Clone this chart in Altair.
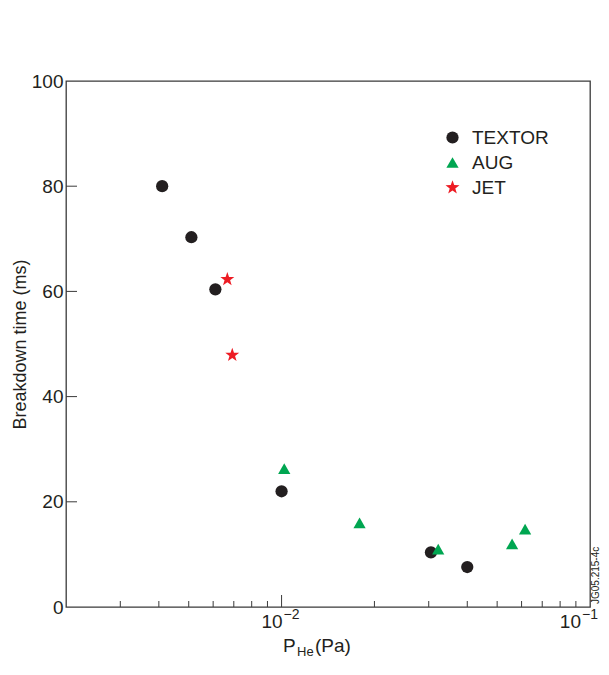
import altair as alt
import pandas as pd

# ---- data ----
groups = ["TEXTOR", "AUG", "JET"]
group_colors = ["#231f20", "#00a651", "#ed1c24"]
STAR = ("M0,-1.2L0.282,-0.389L1.141,-0.371L0.456,0.149L0.706,0.971L0,0.48"
        "L-0.706,0.971L-0.456,0.149L-1.141,-0.371L-0.282,-0.389Z")
group_shapes = ["circle", "triangle-up", STAR]

textor_p = [0.0041, 0.0051, 0.0061, 0.0100, 0.0305, 0.0400]
textor_t = [80.0, 70.3, 60.4, 22.0, 10.4, 7.6]

aug_p = [0.0102, 0.0179, 0.0322, 0.0559, 0.0616]
aug_t = [26.3, 16.0, 11.0, 12.0, 14.8]

jet_p = [0.00667, 0.00692]
jet_t = [62.3, 47.9]

y_tick_values = [0, 20, 40, 60, 80, 100]
y_inner_ticks = [20, 40, 60, 80]
x_minor_ticks = [0.003, 0.004, 0.005, 0.006, 0.007, 0.008, 0.009,
                 0.02, 0.03, 0.04, 0.05, 0.06, 0.07, 0.08, 0.09]
x_major_ticks = [0.01]
x_label_mid = [0.01]
x_label_end = [0.1]
x_label_base = ["10"]
x_label_exp_mid = ["\u22122"]
x_label_exp_end = ["\u22121"]

# ---- table ----
rows = []
for name, ps, ts in [("TEXTOR", textor_p, textor_t), ("AUG", aug_p, aug_t), ("JET", jet_p, jet_t)]:
    for p, t in zip(ps, ts):
        rows.append({"group": name, "p": p, "t": t})
df = pd.DataFrame(rows)

W, H = 524, 526
FONT = "Liberation Sans"
INK = "#231f20"
LINE = "#3a3a3a"

x_scale = alt.Scale(type="log", domain=[0.002, 0.1], nice=False)
y_scale = alt.Scale(domain=[0, 100], nice=False)

y_axis = alt.Axis(values=y_tick_values, tickSize=0, domain=False, grid=False,
                  labelFontSize=19, labelPadding=3, labelColor=INK, labelFont=FONT,
                  title="Breakdown time (ms)", titleFontSize=18, titleFont=FONT,
                  titleFontWeight="normal", titleColor=INK, titlePadding=2)

legend = alt.Legend(title=None, orient="none", legendX=377, legendY=47,
                    labelFontSize=19, labelFont=FONT, labelColor=INK,
                    symbolSize=150, symbolStrokeWidth=0, rowPadding=5, labelOffset=10)

points = alt.Chart(df).mark_point(filled=True, size=150, opacity=1).encode(
    x=alt.X("p:Q", scale=x_scale, axis=None),
    y=alt.Y("t:Q", scale=y_scale, axis=y_axis),
    color=alt.Color("group:N", scale=alt.Scale(domain=groups, range=group_colors), legend=legend),
    shape=alt.Shape("group:N", scale=alt.Scale(domain=groups, range=group_shapes), legend=legend),
)

minor = alt.Chart(pd.DataFrame({"p": x_minor_ticks})).mark_rule(color=LINE, strokeWidth=1).encode(
    x=alt.X("p:Q", scale=x_scale, axis=None), y=alt.value(H), y2=alt.value(H - 6))
major = alt.Chart(pd.DataFrame({"p": x_major_ticks})).mark_rule(color=LINE, strokeWidth=1).encode(
    x=alt.X("p:Q", scale=x_scale, axis=None), y=alt.value(H), y2=alt.value(H - 12))

yticks = alt.Chart(pd.DataFrame({"t": y_inner_ticks})).mark_rule(color=LINE, strokeWidth=1).encode(
    y=alt.Y("t:Q", scale=y_scale, axis=y_axis), x=alt.value(0), x2=alt.value(11))


def xlabel(values, exps, dx_base, dx_exp):
    d = pd.DataFrame({"p": values, "base": x_label_base * len(values), "exp": exps})
    b = alt.Chart(d).mark_text(align="right", baseline="alphabetic", dx=dx_base,
                               fontSize=19, font=FONT, color=INK).encode(
        x=alt.X("p:Q", scale=x_scale, axis=None), y=alt.value(H + 21), text="base:N")
    e = alt.Chart(d).mark_text(align="left", baseline="alphabetic", dx=dx_exp,
                               fontSize=14, font=FONT, color=INK).encode(
        x=alt.X("p:Q", scale=x_scale, axis=None), y=alt.value(H + 12), text="exp:N")
    return [b, e]


labels = xlabel(x_label_mid, x_label_exp_mid, 1, 2) + xlabel(x_label_end, x_label_exp_end, -9, -8)

t_P = alt.Chart(pd.DataFrame({"s": ["P"]})).mark_text(align="left", baseline="alphabetic",
        fontSize=19, font=FONT, color=INK).encode(x=alt.value(217), y=alt.value(H + 45), text="s:N")
t_He = alt.Chart(pd.DataFrame({"s": ["He"]})).mark_text(align="left", baseline="alphabetic",
        fontSize=13, font=FONT, color=INK).encode(x=alt.value(231), y=alt.value(H + 49), text="s:N")
t_Pa = alt.Chart(pd.DataFrame({"s": ["(Pa)"]})).mark_text(align="left", baseline="alphabetic",
        fontSize=19, font=FONT, color=INK).encode(x=alt.value(249), y=alt.value(H + 45), text="s:N")

jg = alt.Chart(pd.DataFrame({"s": ["JG05.215-4c"]})).mark_text(align="left", baseline="middle",
        angle=270, fontSize=10, font=FONT, color=INK).encode(x=alt.value(W + 6), y=alt.value(H - 3), text="s:N")

chart = alt.layer(minor, major, yticks, points, *labels, t_P, t_He, t_Pa, jg).properties(
    width=W, height=H,
    autosize=alt.AutoSizeParams(type="none"),
    padding={"left": 58, "top": 73, "right": 11, "bottom": 53},
).configure(font=FONT).configure_view(stroke=LINE, strokeWidth=1.3)

chart.save("out.html", embed_options={"renderer": "svg", "actions": False})
